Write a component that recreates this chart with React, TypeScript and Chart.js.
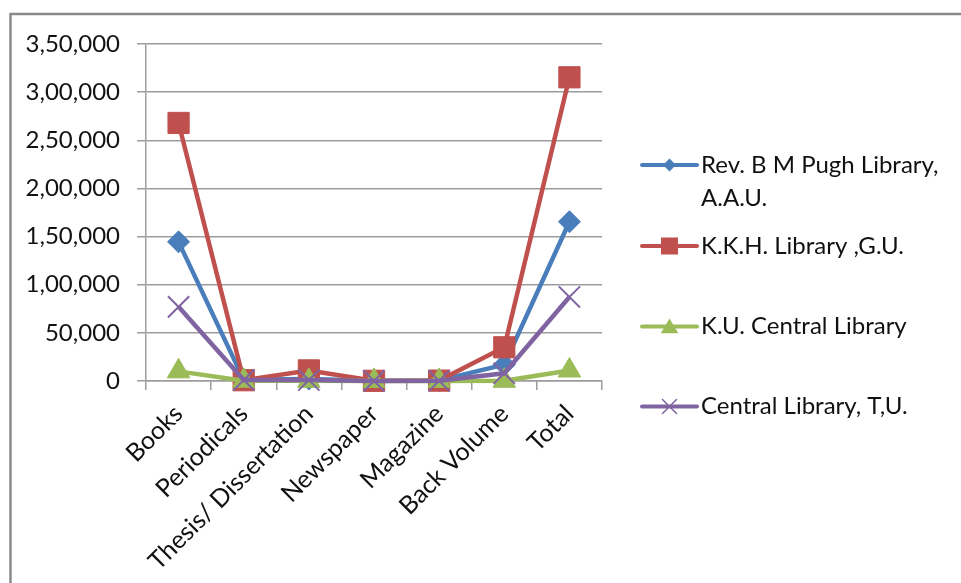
import React, { useEffect, useRef } from "react";
import { Chart, registerables } from "chart.js";

Chart.register(...registerables);

// Holdings by document type for four university libraries
const categories = [
  "Books",
  "Periodicals",
  "Thesis/ Dissertation",
  "Newspaper",
  "Magazine",
  "Back Volume",
  "Total",
];

const pughLibrary = [144500, 1200, 2000, 200, 500, 17000, 165400];
const kkhLibrary = [268000, 800, 11000, 200, 400, 35000, 315400];
const kuCentralLibrary = [10000, 300, 200, 100, 100, 200, 10900];
const tuCentralLibrary = [77000, 1000, 1000, 100, 200, 8000, 87300];

const seriesNames = [
  "Rev. B M Pugh Library, A.A.U.",
  "K.K.H. Library ,G.U.",
  "K.U. Central Library",
  "Central Library, T,U.",
];

const yTicks = [0, 50000, 100000, 150000, 200000, 250000, 300000, 350000];

const FONT = "Lato, 'Liberation Sans', sans-serif";
const TEXT = "#111111";
const GRID = "#9c9c9c";

// Indian digit grouping: 3,50,000
function formatIndian(v: number): string {
  const s = String(Math.round(v));
  if (s.length <= 3) return s;
  const last3 = s.slice(-3);
  let rest = s.slice(0, -3);
  const parts: string[] = [];
  while (rest.length > 2) {
    parts.unshift(rest.slice(-2));
    rest = rest.slice(0, -2);
  }
  if (rest) parts.unshift(rest);
  return parts.join(",") + "," + last3;
}

type Marker = "diamond" | "square" | "triangle" | "cross";

function drawMarker(
  ctx: CanvasRenderingContext2D,
  kind: Marker,
  x: number,
  y: number,
  size: number,
  color: string
) {
  ctx.save();
  ctx.fillStyle = color;
  ctx.strokeStyle = color;
  ctx.beginPath();
  if (kind === "diamond") {
    ctx.moveTo(x, y - size);
    ctx.lineTo(x + size, y);
    ctx.lineTo(x, y + size);
    ctx.lineTo(x - size, y);
    ctx.closePath();
    ctx.fill();
  } else if (kind === "square") {
    ctx.rect(x - size, y - size, size * 2, size * 2);
    ctx.fill();
  } else if (kind === "triangle") {
    ctx.moveTo(x, y - size);
    ctx.lineTo(x + size * 1.1, y + size * 0.85);
    ctx.lineTo(x - size * 1.1, y + size * 0.85);
    ctx.closePath();
    ctx.fill();
  } else {
    ctx.lineWidth = 1.5;
    ctx.moveTo(x - size, y - size);
    ctx.lineTo(x + size, y + size);
    ctx.moveTo(x + size, y - size);
    ctx.lineTo(x - size, y + size);
    ctx.stroke();
  }
  ctx.restore();
}

const legendMarkers: Marker[] = ["diamond", "square", "triangle", "cross"];
const legendMarkerSizes = [6.5, 8.5, 8, 7];
const legendRows = [165, 246, 326.5, 406.5];

// Frame around the chart and the wrapped legend on the right
const framePlugin = {
  id: "frameAndLegend",
  beforeDraw(chart: Chart) {
    const ctx = chart.ctx;
    ctx.save();
    ctx.strokeStyle = "#8a8a8a";
    ctx.lineWidth = 2.5;
    ctx.strokeRect(10.5, 14, 1200, 1200);
    ctx.restore();
  },
  afterDraw(chart: Chart) {
    const ctx = chart.ctx;
    const x0 = 642;
    const x1 = 697;
    const textX = 701;
    const maxWidth = 255;
    const lineHeight = 33.5;
    ctx.save();
    ctx.font = `24px ${FONT}`;
    ctx.textBaseline = "middle";
    ctx.textAlign = "left";
    chart.data.datasets.forEach((ds: any, i: number) => {
      const y = legendRows[i];
      const color = ds.borderColor as string;
      ctx.strokeStyle = color;
      ctx.lineWidth = 4;
      ctx.lineCap = "round";
      ctx.beginPath();
      ctx.moveTo(x0, y);
      ctx.lineTo(x1, y);
      ctx.stroke();
      drawMarker(ctx, legendMarkers[i], (x0 + x1) / 2, y, legendMarkerSizes[i], color);

      // word wrap the label
      const words = String(ds.label).split(" ");
      const lines: string[] = [];
      let line = "";
      for (const w of words) {
        const test = line ? line + " " + w : w;
        if (ctx.measureText(test).width > maxWidth && line) {
          lines.push(line);
          line = w;
        } else {
          line = test;
        }
      }
      if (line) lines.push(line);
      ctx.fillStyle = TEXT;
      lines.forEach((l, k) => ctx.fillText(l, textX, y + k * lineHeight));
    });
    ctx.restore();
  },
};

export default function App() {
  const canvasRef = useRef<HTMLCanvasElement | null>(null);

  useEffect(() => {
    const canvas = canvasRef.current;
    if (!canvas) return;

    const lineDataset = (
      label: string,
      data: number[],
      color: string,
      pointStyle: string,
      radius: number,
      order: number,
      pointBorderWidth = 1
    ) => ({
      label,
      data,
      borderColor: color,
      backgroundColor: color,
      borderWidth: 4.5,
      pointStyle,
      pointRadius: radius,
      pointHoverRadius: radius,
      pointBorderWidth,
      pointBackgroundColor: color,
      pointBorderColor: color,
      tension: 0,
      order,
      clip: false,
    });

    const chart = new Chart(canvas, {
      type: "line",
      data: {
        labels: categories,
        datasets: [
          lineDataset(seriesNames[0], pughLibrary, "#4a7ebb", "rectRot", 11, 3),
          lineDataset(seriesNames[1], kkhLibrary, "#c0504d", "rect", 15, 2),
          lineDataset(seriesNames[2], kuCentralLibrary, "#9bbb59", "triangle", 13, 1),
          lineDataset(seriesNames[3], tuCentralLibrary, "#8064a2", "crossRot", 15, 0, 2),
        ] as any,
      },
      options: {
        animation: false,
        responsive: false,
        maintainAspectRatio: false,
        layout: { padding: { left: 0, right: 359, top: 44, bottom: 0 } },
        plugins: {
          legend: { display: false },
          tooltip: { enabled: false },
        },
        scales: {
          x: {
            type: "category",
            offset: true,
            grid: {
              offset: true,
              drawOnChartArea: false,
              drawTicks: true,
              tickLength: 9,
              color: GRID,
              lineWidth: 1.5,
            },
            border: { display: true, color: GRID, width: 1.5 },
            ticks: {
              minRotation: 45,
              maxRotation: 45,
              autoSkip: false,
              padding: 9,
              color: TEXT,
              font: { family: FONT, size: 25 },
            },
            afterFit: (s: any) => {
              s.height = 202;
            },
          },
          y: {
            min: 0,
            max: 350000,
            grid: {
              color: GRID,
              lineWidth: 1.5,
              drawTicks: true,
              tickLength: 9,
            },
            border: { display: true, color: GRID, width: 1.5 },
            afterBuildTicks: (s: any) => {
              s.ticks = yTicks.map((v) => ({ value: v }));
            },
            ticks: {
              padding: 17,
              color: TEXT,
              font: { family: FONT, size: 24 },
              callback: (v: any) => formatIndian(Number(v)),
            },
            afterFit: (s: any) => {
              s.width = 146;
            },
          },
        },
      },
      plugins: [framePlugin as any],
    });

    return () => chart.destroy();
  }, []);

  return (
    <div style={{ position: "absolute", left: 0, top: 0, width: 961, height: 583, background: "#fff" }}>
      <canvas ref={canvasRef} width={961} height={583} style={{ display: "block" }} />
    </div>
  );
}
